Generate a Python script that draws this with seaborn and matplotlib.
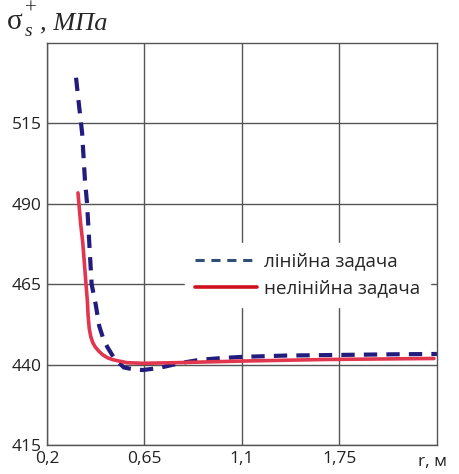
import pandas as pd
import matplotlib.pyplot as plt
import seaborn as sns
from matplotlib.lines import Line2D

# r, m (axis positions)
r_lin = [0.334, 0.348, 0.362, 0.375, 0.385, 0.406, 0.425, 0.441, 0.460, 0.479,
         0.510, 0.555, 0.600, 0.643, 0.72, 0.81, 0.906, 1.0, 1.1, 1.3, 1.548, 1.8, 2.0]
s_lin = [529.2, 520.5, 512.1, 497.5, 490.0, 465.0, 458.6, 452.0, 448.0, 445.4,
         442.0, 439.1, 438.5, 438.3, 439.0, 440.4, 441.5, 442.0, 442.4, 442.8, 443.0, 443.2, 443.3]

r_nonlin = [0.343, 0.355, 0.365, 0.380, 0.386, 0.390, 0.395, 0.402, 0.411, 0.4215,
            0.440, 0.458, 0.480, 0.505, 0.568, 0.643, 0.8, 1.1, 1.5, 1.986]
s_nonlin = [493.4, 484.0, 478.0, 465.0, 460.1, 455.0, 451.2, 448.7, 446.9, 445.6,
            444.1, 443.0, 442.1, 441.5, 440.6, 440.4, 440.6, 441.1, 441.6, 441.9]

x_ticks = [0.2, 0.65, 1.1, 1.55]
x_labels = ["0,2", "0,65", "1,1", "1,75"]
y_ticks = [415, 440, 465, 490, 515]

df_lin = pd.DataFrame({"r": r_lin, "s": s_lin})
df_nonlin = pd.DataFrame({"r": r_nonlin, "s": s_nonlin})

sns.set_style("white")
plt.rcParams["font.family"] = ["Open Sans", "DejaVu Sans"]

fig, ax = plt.subplots(figsize=(4.59, 4.74), dpi=100)
fig.subplots_adjust(left=0.1024, right=0.952, top=0.9093, bottom=0.0612)

sns.lineplot(data=df_lin, x="r", y="s", ax=ax, color="#221c7e", lw=3.0,
             linestyle=(0, (3.2, 2.2)), sort=False)
sns.lineplot(data=df_nonlin, x="r", y="s", ax=ax, color="#e2364f", lw=2.6, sort=False)

ax.set_xlim(0.2, 2.0)
ax.set_ylim(415, 540)
ax.set_xticks(x_ticks)
ax.set_xticklabels(x_labels)
ax.set_yticks(y_ticks)
ax.tick_params(axis="both", length=0, labelsize=12.5, pad=4, colors="#222222")
ax.grid(True, color="#555555", lw=1.0)
for s in ax.spines.values():
    s.set_color("#555555")
    s.set_linewidth(1.0)
ax.set_xlabel("")
ax.set_ylabel("")

handles = [Line2D([], [], color="#2f4e78", lw=2.2, linestyle=(0, (3, 2.2))),
           Line2D([], [], color="#d0101e", lw=2.6)]
ax.legend(handles, ["лінійна задача", "нелінійна задача"], loc="center",
          bbox_to_anchor=(0.668, 0.423), frameon=True, fancybox=False,
          framealpha=1.0, edgecolor="white", fontsize=13.5,
          handlelength=3.3, handletextpad=0.4, borderpad=0.5, labelspacing=0.5)

# axis title: sigma_s^+, MPa in serif
serif = "Liberation Serif"
fig.text(0.016, 0.9388, "σ", fontsize=21, family=serif, va="baseline", ha="left")
fig.text(0.053, 0.925, "s", fontsize=14, family=serif, style="italic",
         va="baseline", ha="left")
fig.text(0.054, 0.980, "+", fontsize=15, family=serif, va="center", ha="left")
fig.text(0.088, 0.9388, ", МПа", fontsize=19, family=serif, style="italic",
         va="baseline", ha="left")
fig.text(0.911, 0.026, "r, м", fontsize=12.5, ha="left", va="center", color="#222222")

plt.savefig("out.png", dpi=100)
plt.close()
